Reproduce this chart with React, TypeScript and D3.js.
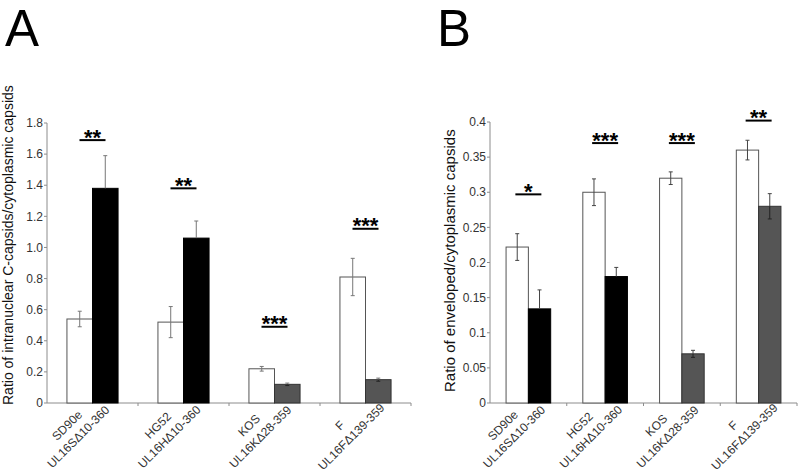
import React from "react";
import * as d3 from "d3";

const categories = ["SD90e", "HG52", "KOS", "F"];
const mutants = ["UL16SΔ10-360", "UL16HΔ10-360", "UL16KΔ28-359", "UL16FΔ139-359"];

const aWT = [0.54, 0.52, 0.22, 0.81];
const aWTErr = [0.05, 0.1, 0.015, 0.12];
const aMut = [1.38, 1.06, 0.12, 0.15];
const aMutErr = [0.21, 0.11, 0.008, 0.01];
const aSig = ["**", "**", "***", "***"];
const aSigY = [1.69, 1.38, 0.49, 1.12];
const aTicks = [0, 0.2, 0.4, 0.6, 0.8, 1.0, 1.2, 1.4, 1.6, 1.8];
const aTickLabels = ["0", "0.2", "0.4", "0.6", "0.8", "1.0", "1.2", "1.4", "1.6", "1.8"];

const bWT = [0.222, 0.3, 0.32, 0.36];
const bWTErr = [0.019, 0.019, 0.009, 0.014];
const bMut = [0.134, 0.18, 0.07, 0.28];
const bMutErr = [0.027, 0.013, 0.005, 0.018];
const bSig = ["*", "***", "***", "**"];
const bSigY = [0.297, 0.37, 0.37, 0.402];
const bTicks = [0, 0.05, 0.1, 0.15, 0.2, 0.25, 0.3, 0.35, 0.4];
const bTickLabels = ["0", "0.05", "0.1", "0.15", "0.2", "0.25", "0.3", "0.35", "0.4"];

const mutFill = ["#000000", "#000000", "#555555", "#555555"];
const FONT = "Arial, 'Liberation Sans', sans-serif";

type PanelProps = {
  x0: number; x1: number; yTop: number; yBot: number; yMax: number;
  wt: number[]; wtErr: number[]; mut: number[]; mutErr: number[];
  sig: string[]; sigY: number[]; ticks: number[]; tickLabels: string[];
  title: string; titleX: number; titleY: number; titleSize: number;
  outerPad: number; sigW: number; errColor: string;
};

function Panel(p: PanelProps) {
  const x = d3.scaleBand<string>().domain(categories).range([p.x0, p.x1]).padding(0);
  const sub = d3.scaleBand<string>().domain(["wt", "mut"]).range([0, x.bandwidth()])
    .paddingInner(0).paddingOuter(p.outerPad);
  const y = d3.scaleLinear().domain([0, p.yMax]).range([p.yBot, p.yTop]);
  const axisColor = "#8c8c8c";
  const cap = 2;
  return (
    <g fontFamily={FONT}>
      <line x1={p.x0} x2={p.x0} y1={y(p.yMax)} y2={y(0)} stroke={axisColor} strokeWidth={1} />
      {p.ticks.map((t, i) => (
        <g key={"t" + i}>
          <line x1={p.x0 - 3} x2={p.x0} y1={y(t)} y2={y(t)} stroke={axisColor} />
          <text x={p.x0 - 4} y={y(t)} dy="0.35em" textAnchor="end" fontSize={12} fill="#333">{p.tickLabels[i]}</text>
        </g>
      ))}
      <line x1={p.x0} x2={p.x1} y1={y(0)} y2={y(0)} stroke={axisColor} />
      {categories.map((c, i) => (
        <line key={"xt" + i} x1={(x(c) as number) + x.bandwidth()} x2={(x(c) as number) + x.bandwidth()}
          y1={y(0)} y2={y(0) + 3} stroke={axisColor} />
      ))}
      {categories.map((c, i) => {
        const bx = x(c) as number;
        const wx = bx + (sub("wt") as number);
        const mx = bx + (sub("mut") as number);
        const w = sub.bandwidth();
        const wcx = wx + w / 2;
        const mcx = mx + w / 2;
        const mf = mutFill[i];
        const gc = bx + x.bandwidth() / 2;
        return (
          <g key={"b" + i}>
            <rect x={wx} y={y(p.wt[i])} width={w} height={y(0) - y(p.wt[i])} fill="#fff" stroke="#555" strokeWidth={1} />
            <rect x={mx} y={y(p.mut[i])} width={w} height={y(0) - y(p.mut[i])} fill={mf} stroke={mf === "#000000" ? "#000" : "#333"} strokeWidth={1} />
            <line x1={wcx} x2={wcx} y1={y(p.wt[i] + p.wtErr[i])} y2={y(p.wt[i] - p.wtErr[i])} stroke={p.errColor} />
            <line x1={wcx - cap} x2={wcx + cap} y1={y(p.wt[i] + p.wtErr[i])} y2={y(p.wt[i] + p.wtErr[i])} stroke={p.errColor} />
            <line x1={wcx - cap} x2={wcx + cap} y1={y(p.wt[i] - p.wtErr[i])} y2={y(p.wt[i] - p.wtErr[i])} stroke={p.errColor} />
            <line x1={mcx} x2={mcx} y1={y(p.mut[i] + p.mutErr[i])} y2={y(p.mut[i])} stroke={p.errColor} />
            <line x1={mcx - cap} x2={mcx + cap} y1={y(p.mut[i] + p.mutErr[i])} y2={y(p.mut[i] + p.mutErr[i])} stroke={p.errColor} />
            {mf !== "#000000" && (
              <g>
                <line x1={mcx} x2={mcx} y1={y(p.mut[i])} y2={y(p.mut[i] - p.mutErr[i])} stroke="#222" />
                <line x1={mcx - cap} x2={mcx + cap} y1={y(p.mut[i] - p.mutErr[i])} y2={y(p.mut[i] - p.mutErr[i])} stroke="#222" />
              </g>
            )}
            <line x1={gc - p.sigW / 2} x2={gc + p.sigW / 2}
              y1={y(p.sigY[i])} y2={y(p.sigY[i])} stroke="#000" strokeWidth={2} />
            <text x={gc} y={y(p.sigY[i]) + 4.5} textAnchor="middle" fontSize={22} fontWeight="bold" fill="#000">{p.sig[i]}</text>
            <g transform={`translate(${gc - 20},${y(0) + 28}) rotate(-45)`}>
              <text x={0} y={-3.7} textAnchor="middle" fontSize={12} fill="#333">{c}</text>
              <text x={0} y={12.3} textAnchor="middle" fontSize={12} fill="#333">{mutants[i]}</text>
            </g>
          </g>
        );
      })}
      <text transform={`translate(${p.titleX},${p.titleY}) rotate(-90)`} x={0} y={0} textAnchor="start"
        fontSize={p.titleSize} fill="#111">{p.title}</text>
    </g>
  );
}

export default function App() {
  return (
    <svg width={800} height={476} style={{ position: "absolute", left: 0, top: 0, background: "#fff" }}>
      <rect x={0} y={0} width={800} height={476} fill="#fff" />
      <text x={5} y={46} fontFamily={FONT} fontSize={51} fill="#000">A</text>
      <text x={437} y={46} fontFamily={FONT} fontSize={51} fill="#000">B</text>
      <Panel x0={47} x1={411} yTop={123} yBot={403} yMax={1.8}
        wt={aWT} wtErr={aWTErr} mut={aMut} mutErr={aMutErr} sig={aSig} sigY={aSigY}
        ticks={aTicks} tickLabels={aTickLabels}
        title="Ratio of intranuclear C-capsids/cytoplasmic capsids" titleX={13} titleY={405} titleSize={14}
        outerPad={0.78} sigW={26} errColor="#777" />
      <Panel x0={490} x1={797} yTop={122} yBot={403} yMax={0.4}
        wt={bWT} wtErr={bWTErr} mut={bMut} mutErr={bMutErr} sig={bSig} sigY={bSigY}
        ticks={bTicks} tickLabels={bTickLabels}
        title="Ratio of enveloped/cytoplasmic capsids" titleX={454.5} titleY={392} titleSize={15}
        outerPad={0.72} sigW={26} errColor="#444" />
    </svg>
  );
}
